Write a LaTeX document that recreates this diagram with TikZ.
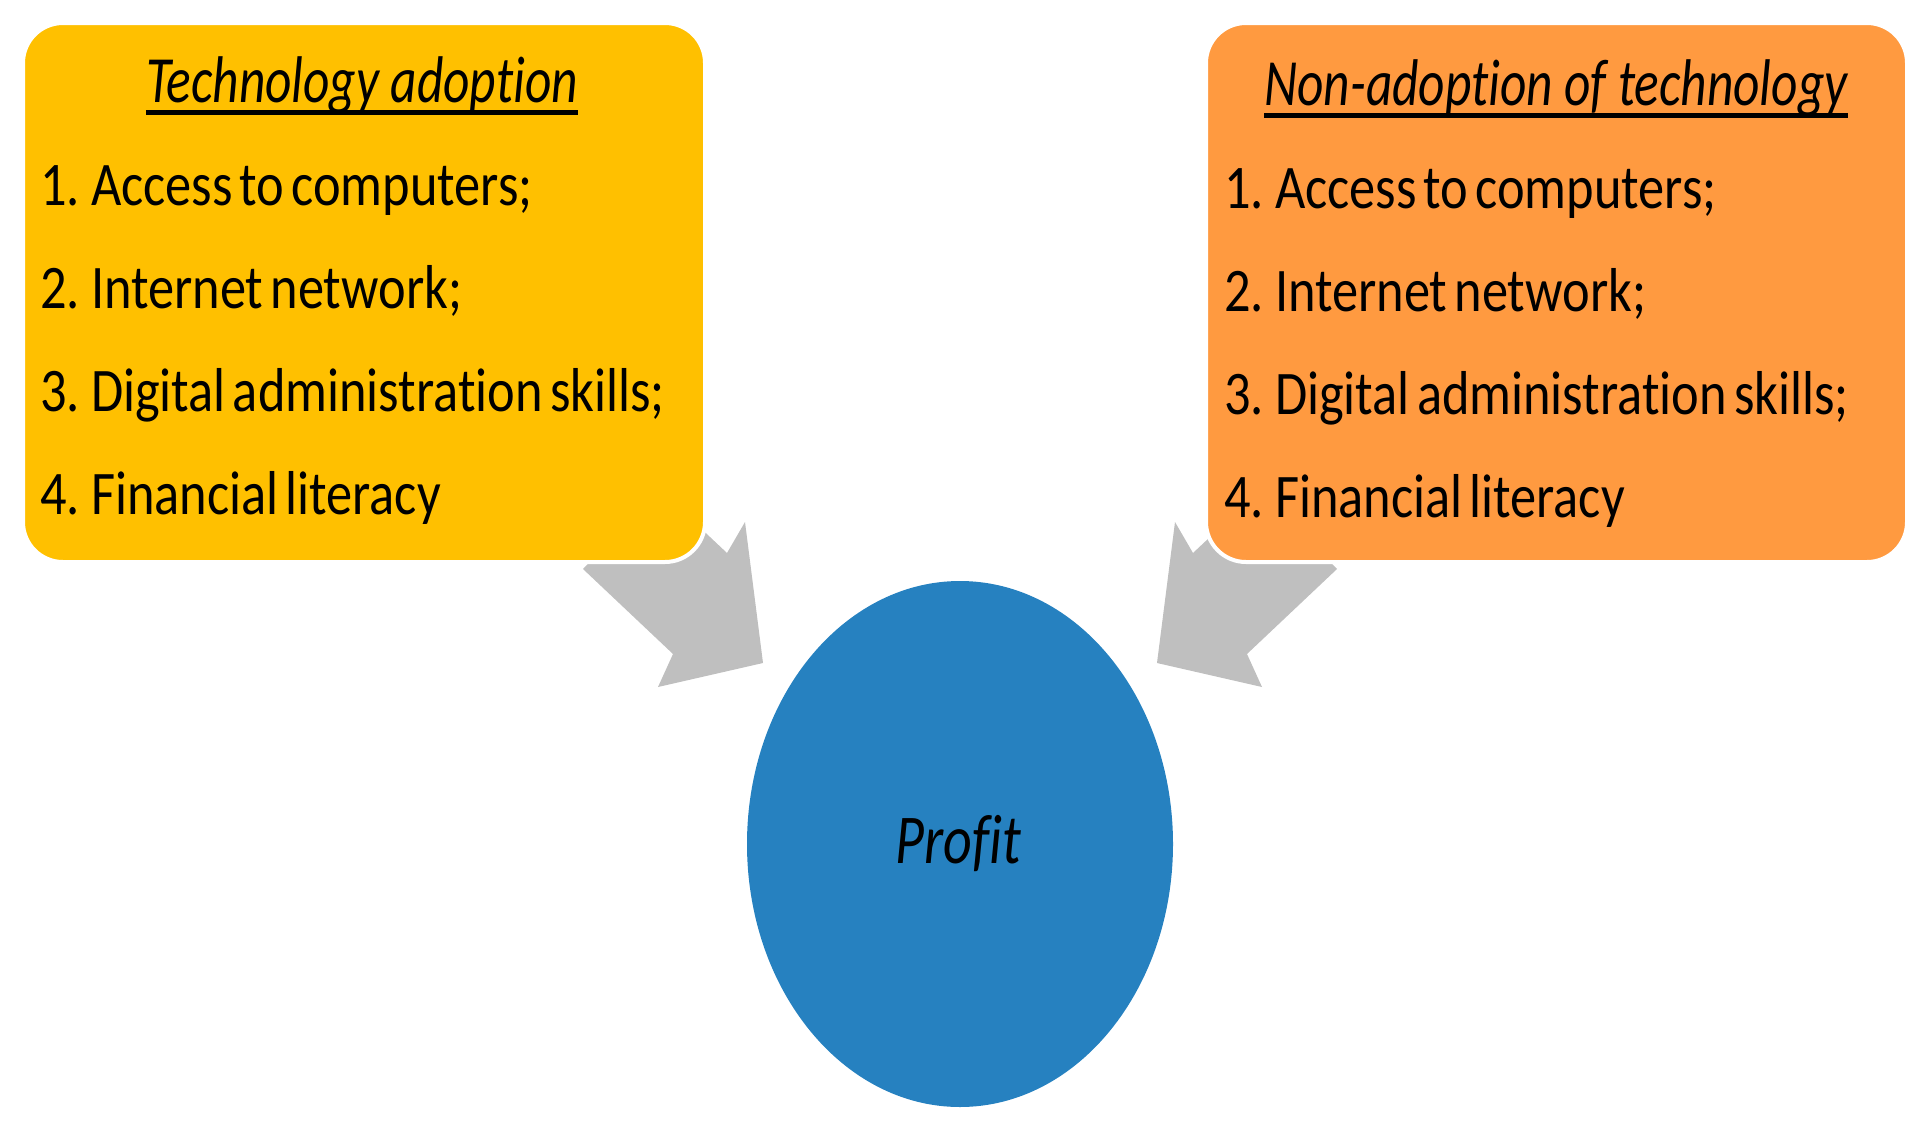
\documentclass[tikz,border=0pt]{standalone}
\usepackage{fontspec}
\usetikzlibrary{shapes.geometric}
\setmainfont{Carlito}[Ligatures=NoCommon]
\newfontfamily\itemfont{Carlito}[Ligatures=NoCommon, WordSpace=0.6]
\definecolor{boxyellow}{HTML}{FFC000}
\definecolor{boxorange}{HTML}{FF9A40}
\definecolor{circblue}{HTML}{2681C0}
\definecolor{arrowgray}{HTML}{BFBFBF}
\newcommand{\sqz}[2]{\scalebox{#1}[1]{#2}}
\begin{document}
\begin{tikzpicture}[x=1pt,y=-1pt,
  panel/.style={rectangle, rounded corners=40pt, draw=white, line width=4pt,
    minimum height=539pt, inner sep=0pt},
  item/.style={anchor=base west, inner sep=0pt, font=\itemfont\fontsize{62}{74}\selectfont},
  ttl/.style={anchor=base, inner sep=0pt, font=\fontsize{66}{78}\selectfont\itshape},
  blockarrow/.style={fill=arrowgray, draw=none}]
\useasboundingbox (0,0) rectangle (1923,1125);
% arrows (behind boxes)
\coordinate (la1) at (583,569);
\coordinate (la2) at (659,489);
\coordinate (la3) at (727,553);
\coordinate (la4) at (745,522);
\coordinate (la5) at (763,663);
\coordinate (la6) at (658,687);
\coordinate (la7) at (673,654);
\fill[blockarrow] (la1) -- (la2) -- (la3) -- (la4) -- (la5) -- (la6) -- (la7) -- cycle;
\coordinate (ra1) at (1337,569);
\coordinate (ra2) at (1261,489);
\coordinate (ra3) at (1193,553);
\coordinate (ra4) at (1175,522);
\coordinate (ra5) at (1157,663);
\coordinate (ra6) at (1262,687);
\coordinate (ra7) at (1247,654);
\fill[blockarrow] (ra1) -- (ra2) -- (ra3) -- (ra4) -- (ra5) -- (ra6) -- (ra7) -- cycle;
% boxes
\node[panel, fill=boxyellow, minimum width=682pt] (L) at (364,292.5) {};
\node[panel, fill=boxorange, minimum width=701pt] (R) at (1556.5,292.5) {};
% circle
\node[ellipse, fill=circblue, minimum width=426pt, minimum height=526pt, inner sep=0pt] (P) at (960,844) {};
\node[anchor=base, inner sep=0pt, font=\fontsize{70}{84}\selectfont\itshape] (pt) at (958,863) {\sqz{0.80}{Profit}};
% left texts
\node[ttl] (lt) at (362,102) {\sqz{0.778}{Technology adoption}};
\draw[line width=5pt] ([yshift=-10pt]lt.base west) -- ([yshift=-10pt]lt.base east);
\node[item] (l1) at (40,205) {\sqz{0.845}{1. Access to computers;}};
\node[item] (l2) at (40,308) {\sqz{0.845}{2. Internet network;}};
\node[item] (l3) at (40,411) {\sqz{0.845}{3. Digital administration skills;}};
\node[item] (l4) at (40,514) {\sqz{0.845}{4. Financial literacy}};
% right texts
\node[ttl] (rt) at (1556,105) {\sqz{0.778}{Non-adoption of technology}};
\draw[line width=5pt] ([yshift=-10pt]rt.base west) -- ([yshift=-10pt]rt.base east);
\node[item] (r1) at (1224,208) {\sqz{0.845}{1. Access to computers;}};
\node[item] (r2) at (1224,311) {\sqz{0.845}{2. Internet network;}};
\node[item] (r3) at (1224,414) {\sqz{0.845}{3. Digital administration skills;}};
\node[item] (r4) at (1224,517) {\sqz{0.845}{4. Financial literacy}};
\end{tikzpicture}
\end{document}
